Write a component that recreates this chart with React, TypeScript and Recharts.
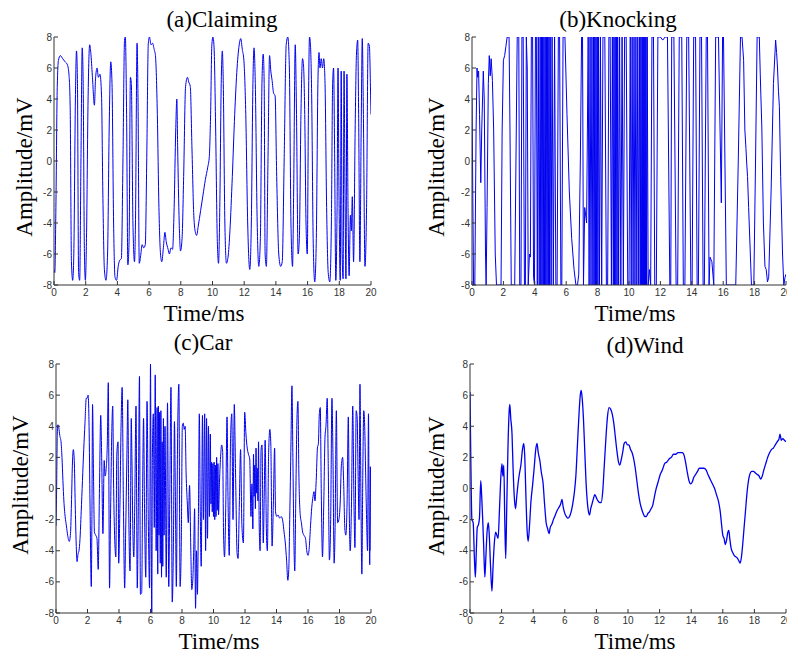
import React from 'react';
import { LineChart, Line, XAxis, YAxis } from 'recharts';

const timeTicks = [0, 2, 4, 6, 8, 10, 12, 14, 16, 18, 20];
const ampTicks = [-8, -6, -4, -2, 0, 2, 4, 6, 8];

// [time ms, amplitude mV]
const claiming: [number, number][] = [
  [0, -7], [0.05, -7.2], [0.12, -3], [0.2, 4.5], [0.28, 6.5], [0.4, 6.8], [0.55, 6.6], [0.7, 6.4], [0.85, 6.2],
  [0.95, 5.5], [1.02, 3.5], [1.1, -6.5], [1.18, -7.7], [1.25, -6], [1.35, 4], [1.42, 7.1], [1.48, 5], [1.55, -7.2],
  [1.62, -7.7], [1.7, 0], [1.78, 7.3], [1.84, 5], [1.92, -6], [1.98, -7.7], [2.05, -5], [2.15, 4], [2.25, 7.5],
  [2.32, 7], [2.42, 5.5], [2.55, 3.6], [2.62, 5.3], [2.72, 6], [2.8, 5.4], [2.9, 5.6], [3, 4.2], [3.08, -2],
  [3.18, -7], [3.28, -7.7], [3.38, -6], [3.48, 2], [3.58, 6.4], [3.66, 5], [3.76, -4], [3.85, -7.5], [3.95, -7.7],
  [4.05, -6.8], [4.15, -6.4], [4.25, -6.3], [4.35, 0], [4.45, 7.8], [4.5, 8], [4.58, 3], [4.66, -6.7], [4.74, -5],
  [4.82, 5.4], [4.88, 5], [4.98, -4], [5.08, -6.5], [5.14, -4], [5.24, 7.6], [5.3, 4], [5.38, -6.6], [5.48, -6],
  [5.56, -5.4], [5.66, -5.6], [5.76, -5.4], [5.85, 0], [5.95, 7.6], [6.02, 8], [6.12, 7.5], [6.22, 7.6], [6.32, 7.2],
  [6.4, 6.8], [6.52, 3], [6.62, -3], [6.72, -6], [6.8, -6.5], [6.9, -5.6], [7, -4.6], [7.08, -5.2], [7.2, -5.7],
  [7.28, -6], [7.38, -5.6], [7.48, -5.7], [7.58, -3], [7.68, 2], [7.75, 4], [7.8, 1], [7.9, -4], [7.98, -5.8],
  [8.08, -5], [8.18, -1], [8.3, 4.8], [8.42, 5.4], [8.5, 5.1], [8.6, 4.8], [8.7, 1], [8.82, -3.5], [8.92, -4.6],
  [9, -4.8], [9.1, -4.2], [9.25, -3.2], [9.4, -2.2], [9.55, -1.2], [9.7, -0.4], [9.8, 0.3], [9.88, 3], [9.96, 7.5],
  [10.03, 8], [10.1, 7.3], [10.2, 2], [10.3, -5], [10.38, -6.6], [10.46, -3], [10.55, 5], [10.62, 7.1], [10.68, 5],
  [10.78, -4], [10.88, -6.6], [10.98, -6.2], [11.1, -4.5], [11.25, -1], [11.4, 3], [11.55, 6], [11.7, 7.6],
  [11.78, 7.9], [11.88, 7.2], [11.98, 6.5], [12.1, 3], [12.22, -4], [12.35, -7], [12.45, -4], [12.55, 5], [12.62, 7.3],
  [12.7, 5], [12.82, -4], [12.92, -6.8], [13.02, -5], [13.12, 5], [13.2, 6.9], [13.26, 5], [13.32, -6], [13.4, -6.8],
  [13.5, 0], [13.6, 6.8], [13.68, 5.8], [13.76, 5.2], [13.85, 4.4], [13.95, 4.2], [14.05, -1], [14.18, -6], [14.3, -6.8],
  [14.4, -6.5], [14.52, 0], [14.65, 7.5], [14.75, 8], [14.85, 6], [14.95, -4], [15.05, -6.8], [15.12, -2], [15.22, 7.5],
  [15.3, 3], [15.4, -6], [15.48, -5], [15.58, 3], [15.68, 6.6], [15.74, 6.2], [15.82, 3], [15.9, -4], [15.98, -6],
  [16.05, 3], [16.12, 8], [16.18, 7.5], [16.26, 4], [16.35, -5], [16.45, -7.8], [16.55, -5], [16.65, 5], [16.72, 7],
  [16.78, 6], [16.86, 6.6], [16.94, 6], [17.02, 6.6], [17.1, 5], [17.2, -3], [17.3, -7.2], [17.4, -7.8], [17.5, -4],
  [17.58, 5], [17.64, 6], [17.7, 1], [17.78, -7.7], [17.86, -3], [17.92, 6], [17.98, -2], [18.06, -7.7], [18.12, 5.8],
  [18.18, -6], [18.24, -7.6], [18.3, 5.8], [18.36, -2], [18.42, -7.6], [18.48, 5.6], [18.55, -3], [18.62, -7.4],
  [18.7, -3.5], [18.76, -4.5], [18.82, -2.3], [18.9, -6.5], [19, 2], [19.08, 6.8], [19.16, 7.8], [19.22, 3],
  [19.3, -6.5], [19.38, 2], [19.45, 7.9], [19.52, 3], [19.62, -6.8], [19.72, -3], [19.82, 7.6], [19.9, 7.4],
  [19.98, 4], [20, 3],
];

const knocking: [number, number][] = [
  [0, 4], [0.05, -2], [0.1, -8], [0.18, -8], [0.26, 2], [0.32, 6], [0.36, 5.4], [0.42, 5.8], [0.48, 3], [0.56, -1.4],
  [0.62, 2], [0.72, 5.8], [0.78, 4], [0.86, -6], [0.9, -8], [0.96, -3], [1.04, 5], [1.1, 6.8], [1.16, 5.5], [1.22, 6.6],
  [1.3, 5.2], [1.38, 2], [1.48, -6], [1.56, -8], [1.7, -8], [1.85, -8], [1.92, 2], [2, 6.5], [2.08, 6.8], [2.16, 7.4],
  [2.24, 8], [2.36, 8], [2.42, 2], [2.5, -8], [2.62, -8], [2.72, -8], [2.8, 0], [2.88, 8], [2.98, 8], [3.04, -8],
  [3.12, -8], [3.18, 8], [3.26, 8], [3.34, -8], [3.4, -8], [3.46, 8], [3.52, 6], [3.58, -8], [3.66, -6], [3.72, -6.2],
  [3.78, 8], [3.86, 8], [3.92, -7.5], [3.98, -8], [4.04, 8], [4.1, 8], [4.16, -8], [4.22, 8], [4.28, -8], [4.34, 8],
  [4.38, -8], [4.42, 8], [4.46, -8], [4.5, 8], [4.54, -8], [4.58, 8], [4.62, -8], [4.66, 8], [4.7, -8], [4.74, 8],
  [4.78, -8], [4.82, 8], [4.86, -8], [4.9, 8], [4.94, -8], [4.98, 8], [5.04, -8], [5.1, 8], [5.18, -8], [5.26, 8],
  [5.34, -8], [5.42, -8], [5.5, 8], [5.58, 8], [5.66, -8], [5.72, -8], [5.8, 8], [5.92, 8], [6.05, 3], [6.2, -2],
  [6.35, -5], [6.5, -7], [6.62, -8], [6.72, -8], [6.8, -7.3], [6.9, 0], [6.98, 8], [7.04, 8], [7.1, -8], [7.18, -3],
  [7.3, -4], [7.4, 8], [7.46, -8], [7.52, 8], [7.58, -8], [7.64, 8], [7.7, -8], [7.74, 8], [7.78, -8], [7.82, 8],
  [7.86, -8], [7.9, 8], [7.94, -8], [7.98, 8], [8.02, -8], [8.06, 8], [8.12, -8], [8.18, 8], [8.26, -8], [8.34, 8],
  [8.46, 8], [8.56, -8], [8.64, -8], [8.72, 8], [8.8, 8], [8.88, -8], [8.94, 8], [9, -8], [9.04, 8], [9.08, -8],
  [9.12, 8], [9.16, -8], [9.2, 8], [9.24, -8], [9.28, 8], [9.34, -8], [9.4, 8], [9.48, -8], [9.56, 8], [9.64, -8],
  [9.72, 8], [9.82, 8], [9.92, -8], [10, -8], [10.08, 8], [10.14, -8], [10.2, 8], [10.26, -8], [10.32, 8], [10.38, -8],
  [10.44, 8], [10.5, -8], [10.56, 8], [10.62, -8], [10.68, 8], [10.72, -8], [10.76, 8], [10.8, -8], [10.84, 8],
  [10.87, -8], [10.9, 8], [10.93, -8], [10.96, 8], [10.99, -8], [11.02, 8], [11.05, -8], [11.08, 8], [11.12, -8],
  [11.16, 8], [11.22, -8], [11.3, -7], [11.38, -8], [11.46, 8], [11.56, 8], [11.64, -8], [11.74, -8], [11.84, 8],
  [12, 8], [12.15, 7.8], [12.3, 8], [12.45, 8], [12.6, -8], [12.66, -8], [12.72, 8], [12.86, 8], [13, -8], [13.1, -8],
  [13.2, 8], [13.36, 8], [13.46, -8], [13.56, -8], [13.68, 8], [13.8, 8], [13.94, -8], [14.02, -8], [14.12, 8],
  [14.24, 8], [14.34, -8], [14.42, -8], [14.52, 8], [14.62, 8], [14.72, -8], [14.8, -8], [14.92, 8], [15, 8],
  [15.1, -8], [15.16, -6.2], [15.28, -6.5], [15.4, -8], [15.52, 8], [15.7, 8], [15.8, 2], [15.88, -2.7], [15.96, 8],
  [16.02, 8], [16.2, -8], [16.4, -8], [16.6, -8], [16.8, -8], [16.96, 0], [17.1, 8], [17.2, 8], [17.3, 6.5], [17.38, 2],
  [17.45, 0.8], [17.5, -0.2], [17.55, -1], [17.62, -3], [17.8, -8], [17.95, -8], [18.06, 0], [18.16, 8], [18.3, 8],
  [18.36, 5.6], [18.4, 4.2], [18.46, 2.2], [18.56, -4], [18.66, -6.8], [18.74, -7], [18.82, -7.8], [18.9, -7.5],
  [19.05, -2], [19.2, 5], [19.34, 7.8], [19.4, 7], [19.46, 6], [19.52, 4.5], [19.58, 3.5], [19.66, -1], [19.78, -6],
  [19.86, -8], [19.94, -7.5], [20, -7.3],
];

const car: [number, number][] = [
  [0, -2.4], [0.04, 0], [0.08, 3.5], [0.12, 4.1], [0.18, 3.9], [0.24, 3.4], [0.32, 3], [0.38, 2], [0.44, 0.5],
  [0.5, -0.8], [0.58, -1.8], [0.66, -2.4], [0.74, -3], [0.84, -3.4], [0.92, -2.9], [0.98, -1], [1.04, 1.5], [1.1, 2.5],
  [1.16, 1.8], [1.22, -1], [1.28, -3.5], [1.34, -4.7], [1.4, -4.2], [1.46, -4], [1.52, -3.3], [1.6, -1.5], [1.68, 0.5],
  [1.76, 2.5], [1.84, 4.2], [1.92, 5.8], [1.98, 5.8], [2.04, 6], [2.1, 4], [2.16, -1], [2.24, -6.3], [2.28, -2],
  [2.32, 5.4], [2.38, 1], [2.44, -2.8], [2.52, -3], [2.6, -3.2], [2.68, -5.2], [2.76, 0], [2.84, 4.7], [2.9, 2],
  [2.98, -2.9], [3.06, 1.8], [3.12, 0.8], [3.18, 1.2], [3.26, 3], [3.32, 6.8], [3.4, -6.4], [3.46, -2], [3.54, 3.5],
  [3.6, 5.3], [3.66, 0], [3.72, -3], [3.8, -4.4], [3.86, 2.2], [3.94, 3], [3.98, -4.8], [4.06, -1], [4.14, 4.5],
  [4.2, 6.5], [4.28, -1], [4.36, -6.4], [4.42, -3], [4.5, 2], [4.56, 5.7], [4.62, -1.5], [4.7, -5.3], [4.78, 4.5],
  [4.82, 2], [4.88, -2.7], [4.94, -4.4], [5, -1], [5.08, 5.3], [5.16, -6.4], [5.22, -2], [5.3, 7.2], [5.36, -6.8],
  [5.44, -6.7], [5.5, 0], [5.56, 4.5], [5.62, -1.3], [5.7, -5.7], [5.78, 5.6], [5.86, -2], [5.94, -6.4], [6, 8],
  [6.04, -2], [6.08, -8], [6.12, 2], [6.18, 4.8], [6.24, -2.5], [6.3, 7.3], [6.36, -4], [6.42, 5.2], [6.46, -5.5],
  [6.5, 5.3], [6.54, -3], [6.58, 4.9], [6.62, -4.8], [6.66, 5], [6.7, -5.7], [6.74, 3], [6.78, -5], [6.82, 4.5],
  [6.86, -3], [6.92, 4], [7, -5.7], [7.08, 5.5], [7.16, -6.3], [7.22, -1], [7.3, 6.5], [7.38, -7.3], [7.46, -3],
  [7.52, 4.3], [7.58, -0.5], [7.64, -6.3], [7.72, 3.2], [7.8, 6.7], [7.88, -6.3], [7.96, -3], [8.02, 4], [8.08, 4.2],
  [8.14, 3.8], [8.2, 4], [8.26, 1], [8.34, -1], [8.4, -2.2], [8.48, 0.2], [8.56, -4], [8.62, -6.5], [8.68, -6],
  [8.74, -4.1], [8.8, -1.3], [8.86, -7.7], [8.92, -4], [8.98, -6.8], [9.04, -2], [9.1, 4.8], [9.16, -1.5], [9.22, -5],
  [9.3, 4.7], [9.36, -2], [9.44, 4.8], [9.5, -4], [9.56, 4.5], [9.62, -3.2], [9.68, 4], [9.74, -1.8], [9.8, 3.5],
  [9.84, -1], [9.88, 1.7], [9.92, -1.5], [9.96, 1.6], [10, -1.8], [10.04, 1.7], [10.08, -2], [10.12, 1.5], [10.16, -1.8],
  [10.2, 2], [10.24, -1.4], [10.28, 1.6], [10.32, -1.7], [10.38, 0.4], [10.46, 2.2], [10.52, 2.8], [10.58, 2.4],
  [10.64, -3], [10.7, -4.4], [10.78, -1], [10.86, 4.6], [10.92, -0.5], [11, -4.3], [11.08, 3], [11.16, 4.8], [11.24, -2],
  [11.32, 5.4], [11.4, 1], [11.5, -4.2], [11.56, -4.5], [11.64, -1], [11.72, 2.5], [11.8, -2.3], [11.9, -3.5],
  [11.98, 4.9], [12.06, 3.5], [12.14, 2.6], [12.22, 2.2], [12.3, 1.9], [12.38, -1.8], [12.44, 0.3], [12.5, -2.6],
  [12.54, 2.2], [12.58, -0.5], [12.62, 1.5], [12.66, -1.3], [12.7, 2.6], [12.74, -0.3], [12.78, 1.3], [12.82, -0.8],
  [12.86, 3], [12.9, -2.2], [12.96, -4], [13.02, 2.5], [13.08, 2.8], [13.16, -3.5], [13.22, -0.5], [13.28, 3.1],
  [13.36, -2.8], [13.42, -4], [13.5, 2.3], [13.58, 3.8], [13.64, 2.8], [13.72, -3.7], [13.8, -1], [13.88, 2.6],
  [13.94, -1.5], [14.02, -1.8], [14.1, -1.7], [14.2, -1.9], [14.3, -1.8], [14.4, -2.1], [14.48, -2.8], [14.56, -3.5],
  [14.64, -4.6], [14.72, -5.9], [14.78, -5.2], [14.84, -2], [14.92, 3], [14.98, 6.6], [15.04, 2], [15.1, -3],
  [15.16, -5.3], [15.22, -1], [15.3, 4.5], [15.36, 5.6], [15.42, 1], [15.5, -1.6], [15.58, -2.2], [15.66, -2.8],
  [15.74, -3], [15.84, -3.2], [15.92, -4], [16, -4.3], [16.08, -3.8], [16.16, -2.4], [16.24, -1.2], [16.32, -0.5],
  [16.38, -0.2], [16.44, -0.8], [16.52, 0.5], [16.6, 2.6], [16.66, 2.9], [16.72, 4.8], [16.78, 5.2], [16.84, 0],
  [16.92, -4.4], [17, -1], [17.08, 3.3], [17.14, 4], [17.22, 5.8], [17.28, 2], [17.36, -4.6], [17.44, -2], [17.52, 5.8],
  [17.58, 2.5], [17.66, -4.8], [17.72, -2.5], [17.8, 5], [17.88, -2.2], [17.96, -2], [18.04, -1], [18.12, 1.5],
  [18.2, 2], [18.26, 0.5], [18.34, -2.6], [18.4, -3], [18.48, -1], [18.56, 4.6], [18.62, -1.5], [18.68, -4],
  [18.76, -1], [18.84, 5.3], [18.92, -1], [18.98, -3.8], [19.06, 5], [19.12, 4.6], [19.18, 1], [19.24, -2], [19.3, 6.7],
  [19.36, -0.5], [19.42, -5.5], [19.48, 1], [19.54, 5], [19.6, 4], [19.66, 1], [19.72, -2], [19.78, -4], [19.84, 4.8],
  [19.88, -1.5], [19.92, -4.9], [19.96, 1.4], [20, -4],
];

const wind: [number, number][] = [
  [0, 6.2], [0.05, 2], [0.12, -2], [0.2, -2.2], [0.28, -4.5], [0.34, -5.7], [0.4, -4], [0.46, -2.5], [0.54, -2.3],
  [0.6, -1.9], [0.68, 0.5], [0.74, -0.5], [0.8, -1.9], [0.86, -3.5], [0.94, -5.7], [1, -4.5], [1.08, -2.8], [1.16, -2.2],
  [1.22, -3], [1.3, -5], [1.39, -6.6], [1.46, -5], [1.54, -3.5], [1.62, -2.8], [1.7, -3], [1.78, -3.2], [1.86, -1.5],
  [1.94, 0.5], [2.02, 1.6], [2.08, 0.8], [2.14, 1.5], [2.2, -2], [2.26, -4.5], [2.32, -1.5], [2.4, 2.5], [2.48, 5],
  [2.52, 5.4], [2.58, 4.5], [2.66, 3.5], [2.72, 1.5], [2.8, -0.5], [2.88, -1.3], [2.96, -0.5], [3.04, 0.3], [3.12, 0.9],
  [3.22, 1.5], [3.32, 2.5], [3.4, 2.9], [3.46, 2.2], [3.54, -0.5], [3.62, -2.8], [3.68, -3.4], [3.76, -2.5],
  [3.86, -0.8], [3.96, 0.2], [4.06, 1.3], [4.16, 2.5], [4.24, 2.9], [4.32, 2.3], [4.42, 1.8], [4.52, 1], [4.62, 0.4],
  [4.72, -1], [4.82, -2.2], [4.92, -2.6], [5, -2.9], [5.08, -2.5], [5.18, -2.3], [5.28, -2], [5.4, -1.7], [5.52, -1.4],
  [5.64, -1.2], [5.74, -1], [5.82, -0.7], [5.9, -1.2], [6, -1.6], [6.1, -1.8], [6.2, -1.9], [6.3, -1.8], [6.4, -1.5],
  [6.5, -1], [6.6, -0.3], [6.7, 0.8], [6.8, 2.8], [6.9, 4.8], [6.98, 6], [7.04, 6.3], [7.1, 5.8], [7.18, 4.5],
  [7.26, 2.5], [7.34, 0.5], [7.42, -0.8], [7.5, -1.5], [7.57, -1.7], [7.64, -1.3], [7.72, -1], [7.8, -0.7], [7.9, -0.4],
  [8, -0.6], [8.1, -0.8], [8.2, -0.9], [8.3, -0.9], [8.4, -0.2], [8.5, 1.5], [8.6, 3.2], [8.7, 4.6], [8.8, 5.2],
  [8.9, 5.1], [9, 4.8], [9.1, 4.2], [9.2, 3.3], [9.3, 2.4], [9.4, 1.7], [9.48, 1.5], [9.56, 1.8], [9.66, 2.3],
  [9.76, 2.9], [9.86, 3], [9.96, 2.8], [10.06, 2.8], [10.16, 2.5], [10.26, 2.3], [10.36, 1.9], [10.46, 1.3],
  [10.56, 0.5], [10.66, -0.3], [10.76, -0.9], [10.86, -1.3], [10.96, -1.6], [11.06, -1.8], [11.16, -1.8],
  [11.26, -1.6], [11.36, -1.5], [11.46, -1.3], [11.56, -1.1], [11.66, -0.6], [11.76, -0.1], [11.9, 0.4], [12.04, 0.9],
  [12.18, 1.2], [12.32, 1.6], [12.46, 1.7], [12.6, 1.9], [12.74, 2], [12.88, 2.2], [13.02, 2.2], [13.16, 2.3],
  [13.3, 2.3], [13.44, 2.3], [13.56, 2.1], [13.66, 1.6], [13.76, 1], [13.86, 0.5], [13.96, 0.3], [14.06, 0.4],
  [14.16, 0.7], [14.28, 0.9], [14.4, 1.1], [14.52, 1.3], [14.66, 1.3], [14.8, 1.3], [14.94, 1.2], [15.06, 0.9],
  [15.2, 0.6], [15.34, 0.3], [15.48, 0], [15.6, -0.4], [15.72, -0.8], [15.84, -1.5], [15.92, -2.3], [16, -3],
  [16.08, -3.2], [16.16, -3.6], [16.24, -3.3], [16.32, -2.8], [16.38, -2.7], [16.44, -3.2], [16.52, -3.8],
  [16.62, -4.1], [16.72, -4.3], [16.84, -4.4], [16.94, -4.5], [17.04, -4.7], [17.1, -4.8], [17.18, -4.4],
  [17.26, -3.6], [17.34, -2.6], [17.44, -1.4], [17.54, -0.2], [17.64, 0.6], [17.74, 1], [17.84, 1.1], [17.94, 1.1],
  [18.06, 1], [18.18, 0.9], [18.3, 0.8], [18.4, 0.6], [18.5, 0.8], [18.6, 1.2], [18.72, 1.6], [18.84, 2], [18.96, 2.3],
  [19.08, 2.5], [19.2, 2.6], [19.32, 2.8], [19.44, 3], [19.56, 3.2], [19.62, 3.5], [19.7, 3.1], [19.8, 3.2],
  [19.9, 3.1], [20, 3],
];

const AXIS = '#333';
const TICK_FONT = '"Liberation Sans", Arial, sans-serif';
const LABEL_FONT = '"Liberation Serif", "Times New Roman", serif';

const BottomTick = ({ x, y, payload }: any) => (
  <g>
    <line x1={x} x2={x} y1={y} y2={y - 4} stroke={AXIS} />
    <text x={x} y={y + 11} textAnchor="middle" fontSize={10} fill={AXIS} fontFamily={TICK_FONT}>
      {payload.value}
    </text>
  </g>
);

const LeftTick = ({ x, y, payload }: any) => (
  <g>
    <line x1={x} x2={x + 4} y1={y} y2={y} stroke={AXIS} />
    <text x={x - 2} y={y + 3.5} textAnchor="end" fontSize={10} fill={AXIS} fontFamily={TICK_FONT}>
      {payload.value}
    </text>
  </g>
);

const TopTick = ({ x, y }: any) => <line x1={x} x2={x} y1={y} y2={y + 4} stroke={AXIS} />;
const RightTick = ({ x, y }: any) => <line x1={x} x2={x - 4} y1={y} y2={y} stroke={AXIS} />;

type Box = { left: number; top: number; right: number; bottom: number };

function Panel({ points, box, curve, width = 1 }: { points: [number, number][]; box: Box; curve: 'linear' | 'monotone'; width?: number }) {
  const rows = points.map(([t, v]) => ({ t, v }));
  const w = box.right - box.left;
  const h = box.bottom - box.top;
  return (
    <div style={{ position: 'absolute', left: box.left - 40, top: box.top - 10 }}>
      <LineChart width={w + 50} height={h + 30} data={rows} margin={{ top: 10, right: 10, left: 0, bottom: 0 }}>
        <XAxis
          xAxisId="b" dataKey="t" type="number" domain={[0, 20]} ticks={timeTicks} interval={0}
          height={20} tickSize={0} tickMargin={0} tickLine={false} tick={<BottomTick />}
          axisLine={{ stroke: AXIS }} allowDataOverflow
        />
        <XAxis
          xAxisId="t" orientation="top" dataKey="t" type="number" domain={[0, 20]} ticks={timeTicks} interval={0}
          height={0} tickSize={0} tickMargin={0} tickLine={false} tick={<TopTick />}
          axisLine={{ stroke: AXIS }} allowDataOverflow
        />
        <YAxis
          yAxisId="l" type="number" domain={[-8, 8]} ticks={ampTicks} interval={0}
          width={40} tickSize={0} tickMargin={0} tickLine={false} tick={<LeftTick />}
          axisLine={{ stroke: AXIS }} allowDataOverflow
        />
        <YAxis
          yAxisId="r" orientation="right" type="number" domain={[-8, 8]} ticks={ampTicks} interval={0}
          width={0} tickSize={0} tickMargin={0} tickLine={false} tick={<RightTick />}
          axisLine={{ stroke: AXIS }} allowDataOverflow
        />
        <Line
          xAxisId="b" yAxisId="l" type={curve} dataKey="v" stroke="#0000f0" strokeWidth={width}
          dot={false} isAnimationActive={false}
        />
      </LineChart>
    </div>
  );
}

const texts = [
  { x: 222, y: 26.5, s: '(a)Claiming' },
  { x: 618, y: 26.5, s: '(b)Knocking' },
  { x: 203, y: 350, s: '(c)Car' },
  { x: 645, y: 352.5, s: '(d)Wind' },
  { x: 204, y: 321, s: 'Time/ms' },
  { x: 635, y: 321, s: 'Time/ms' },
  { x: 219, y: 649, s: 'Time/ms' },
  { x: 635, y: 649, s: 'Time/ms' },
];

const yLabels = [
  { x: 32, y: 167 },
  { x: 444, y: 167 },
  { x: 28, y: 485 },
  { x: 444, y: 486 },
];

export default function App() {
  return (
    <div style={{ position: 'absolute', left: 0, top: 0, width: 787, height: 653, overflow: 'hidden', background: '#fff' }}>
      <Panel points={claiming} box={{ left: 54, top: 37, right: 371, bottom: 285 }} curve="monotone" />
      <Panel points={knocking} box={{ left: 472, top: 37, right: 786, bottom: 285 }} curve="linear" />
      <Panel points={car} box={{ left: 56, top: 364, right: 371, bottom: 613 }} curve="monotone" />
      <Panel points={wind} box={{ left: 470, top: 364, right: 786, bottom: 613 }} curve="monotone" width={1.3} />
      <svg width={787} height={653} style={{ position: 'absolute', left: 0, top: 0, pointerEvents: 'none' }}>
        {texts.map((t, i) => (
          <text key={i} x={t.x} y={t.y} textAnchor="middle" fontSize={23} fontFamily={LABEL_FONT} fill="#000">
            {t.s}
          </text>
        ))}
        {yLabels.map((p, i) => (
          <text
            key={i} x={p.x} y={p.y} transform={`rotate(-90 ${p.x} ${p.y})`} textAnchor="middle"
            fontSize={23} fontFamily={LABEL_FONT} fill="#000"
          >
            Amplitude/mV
          </text>
        ))}
      </svg>
    </div>
  );
}
